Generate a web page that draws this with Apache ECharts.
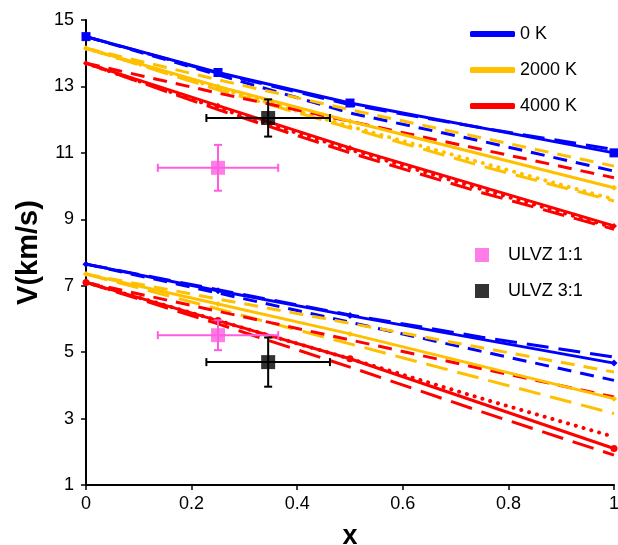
<!DOCTYPE html>
<html><head><meta charset="utf-8">
<script src="https://cdn.jsdelivr.net/npm/echarts@6/dist/echarts.min.js"></script>
<style>html,body{margin:0;padding:0;background:#fff;overflow:hidden}#c{width:100vw;height:100vh}</style>
</head><body><div id="c"></div><script>
// ---- data ----
const xSolid = [0, 0.25, 0.5, 1];
const xDash = [0, 0.25, 0.5, 0.75, 1];
const legendT = ['0 K', '2000 K', '4000 K'];
const legendU = ['ULVZ 1:1', 'ULVZ 3:1'];
// upper group (Vp)
const vpBlueSolid = [14.5, 13.42, 12.5, 11.0];
const vpBlueLong = [14.5, 13.4, 12.45, 11.75, 11.1];
const vpBlueMed = [14.5, 13.35, 12.2, 11.35, 10.45];
const vpOrangeSolid = [14.15, 13.0, 11.95, 9.95];
const vpOrangeMed = [14.15, 13.2, 12.3, 11.45, 10.6];
const vpOrangeLong = [14.15, 12.9, 11.75, 10.6, 9.55];
const vpOrangeDot = [14.15, 12.95, 11.8, 10.7, 9.6];
const vpRedSolid = [13.7, 12.42, 11.15, 8.8];
const vpRedMed = [13.7, 12.8, 11.95, 11.1, 10.25];
const vpRedLong = [13.7, 12.3, 11.0, 9.8, 8.7];
const vpRedDot = [13.7, 12.35, 11.1, 9.9, 8.75];
// lower group (Vs)
const vsBlueSolid = [7.65, 6.85, 6.1, 4.67];
const vsBlueLong = [7.65, 6.88, 6.12, 5.45, 4.85];
const vsBlueMed = [7.65, 6.78, 5.9, 5.02, 4.15];
const vsOrangeSolid = [7.35, 6.45, 5.55, 3.6];
const vsOrangeMed = [7.35, 6.6, 5.87, 5.13, 4.4];
const vsOrangeLong = [7.35, 6.3, 5.25, 4.2, 3.15];
const vsRedSolid = [7.1, 5.95, 4.8, 2.1];
const vsRedMed = [7.1, 6.23, 5.37, 4.5, 3.65];
const vsRedLong = [7.1, 5.85, 4.55, 3.2, 1.9];
const vsRedDot = [7.1, 5.95, 4.8, 3.6, 2.45];
// ULVZ observations
const ulvz11X = [0.25, 0.25];
const ulvz11Y = [10.55, 5.51];
const ulvz11XErr = [0.114, 0.114];
const ulvz11YErr = [0.69, 0.45];
const ulvz31X = [0.345, 0.345];
const ulvz31Y = [12.05, 4.7];
const ulvz31XErr = [0.117, 0.117];
const ulvz31YErr = [0.56, 0.74];

// ---- styles ----
const BLUE = '#0000FF', ORANGE = '#FFC000', RED = '#FF0000', PINK = '#FF5CE0', BLACK = '#000000';
const FONT = 'Liberation Sans, Arial, sans-serif';
const pair = (xs, ys) => xs.map((x, i) => [x, ys[i]]);

function lineSeries(name, xs, ys, color, kind, symbol, symbolSize) {
  let ls = { color: color, width: 3 };
  if (kind === 'long') ls.type = [22, 10];
  else if (kind === 'med') ls.type = [14, 9];
  else if (kind === 'dot') { ls.type = [0.1, 8]; ls.cap = 'round'; ls.width = 4; }
  return {
    type: 'line', name: name, data: pair(xs, ys),
    lineStyle: ls, itemStyle: { color: color },
    symbol: symbol || 'none', symbolSize: symbolSize || 0, showSymbol: !!symbol,
    silent: true, animation: false, z: kind === 'solid' ? 4 : 3
  };
}

function errSeries(name, xs, ys, xe, ye, color) {
  return {
    type: 'custom', name: name + '_err', silent: true, animation: false, z: 6,
    data: xs.map((x, i) => [x, ys[i], xe[i], ye[i]]),
    encode: { x: 0, y: 1 },
    renderItem: function (params, api) {
      const x = api.value(0), y = api.value(1), dx = api.value(2), dy = api.value(3);
      const l = api.coord([x - dx, y]), r = api.coord([x + dx, y]);
      const t = api.coord([x, y + dy]), b = api.coord([x, y - dy]);
      const st = { stroke: color, lineWidth: 2 };
      const cap = 4;
      return { type: 'group', children: [
        { type: 'line', shape: { x1: l[0], y1: l[1], x2: r[0], y2: r[1] }, style: st },
        { type: 'line', shape: { x1: t[0], y1: t[1], x2: b[0], y2: b[1] }, style: st },
        { type: 'line', shape: { x1: l[0], y1: l[1] - cap, x2: l[0], y2: l[1] + cap }, style: st },
        { type: 'line', shape: { x1: r[0], y1: r[1] - cap, x2: r[0], y2: r[1] + cap }, style: st },
        { type: 'line', shape: { x1: t[0] - cap, y1: t[1], x2: t[0] + cap, y2: t[1] }, style: st },
        { type: 'line', shape: { x1: b[0] - cap, y1: b[1], x2: b[0] + cap, y2: b[1] }, style: st }
      ]};
    }
  };
}

const series = [
  lineSeries('vpBlueLong', xDash, vpBlueLong, BLUE, 'long'),
  lineSeries('vpBlueMed', xDash, vpBlueMed, BLUE, 'med'),
  lineSeries('vpOrangeMed', xDash, vpOrangeMed, ORANGE, 'med'),
  lineSeries('vpOrangeLong', xDash, vpOrangeLong, ORANGE, 'long'),
  lineSeries('vpOrangeDot', xDash, vpOrangeDot, ORANGE, 'dot'),
  lineSeries('vpRedMed', xDash, vpRedMed, RED, 'med'),
  lineSeries('vpRedLong', xDash, vpRedLong, RED, 'long'),
  lineSeries('vpRedDot', xDash, vpRedDot, RED, 'dot'),
  lineSeries('vsBlueLong', xDash, vsBlueLong, BLUE, 'long'),
  lineSeries('vsBlueMed', xDash, vsBlueMed, BLUE, 'med'),
  lineSeries('vsOrangeMed', xDash, vsOrangeMed, ORANGE, 'med'),
  lineSeries('vsOrangeLong', xDash, vsOrangeLong, ORANGE, 'long'),
  lineSeries('vsRedMed', xDash, vsRedMed, RED, 'med'),
  lineSeries('vsRedLong', xDash, vsRedLong, RED, 'long'),
  lineSeries('vsRedDot', xDash, vsRedDot, RED, 'dot'),
  lineSeries('0 K', xSolid, vpBlueSolid, BLUE, 'solid', 'rect', 9),
  lineSeries('2000 K', xSolid, vpOrangeSolid, ORANGE, 'solid', 'diamond', 6),
  lineSeries('4000 K', xSolid, vpRedSolid, RED, 'solid', 'diamond', 6),
  lineSeries('0 K', xSolid, vsBlueSolid, BLUE, 'solid', 'diamond', 7),
  lineSeries('2000 K', xSolid, vsOrangeSolid, ORANGE, 'solid', 'diamond', 6),
  lineSeries('4000 K', xSolid, vsRedSolid, RED, 'solid', 'circle', 7),
  errSeries('ULVZ 1:1', ulvz11X, ulvz11Y, ulvz11XErr, ulvz11YErr, PINK),
  errSeries('ULVZ 3:1', ulvz31X, ulvz31Y, ulvz31XErr, ulvz31YErr, BLACK),
  { type: 'scatter', name: 'ULVZ 1:1', data: pair(ulvz11X, ulvz11Y), symbol: 'rect', symbolSize: 14,
    itemStyle: { color: PINK }, z: 7, silent: true, animation: false },
  { type: 'scatter', name: 'ULVZ 3:1', data: pair(ulvz31X, ulvz31Y), symbol: 'rect', symbolSize: 14,
    itemStyle: { color: BLACK }, z: 7, silent: true, animation: false }
];

const chart = echarts.init(document.getElementById('c'), null, { renderer: 'canvas' });
chart.setOption({
  animation: false,
  backgroundColor: '#ffffff',
  grid: { left: 86, right: 4, top: 20, bottom: 60, containLabel: false, outerBoundsMode: 'none' },
  xAxis: {
    type: 'value', min: 0, max: 1, interval: 0.2,
    name: 'x', nameLocation: 'middle', nameGap: 38,
    nameTextStyle: { fontSize: 27, fontWeight: 'bold', fontFamily: FONT, color: '#000' },
    axisLine: { show: true, onZero: false, lineStyle: { color: '#000', width: 2 } },
    axisTick: { show: true, length: 5, lineStyle: { color: '#000', width: 1.5 } },
    axisLabel: { fontSize: 18, fontFamily: FONT, color: '#000', margin: 10,
      formatter: v => String(Math.round(v * 10) / 10) },
    splitLine: { show: false }
  },
  yAxis: {
    type: 'value', min: 1, max: 15, interval: 2,
    name: 'V(km/s)', nameLocation: 'middle', nameGap: 41, nameRotate: 90,
    nameTextStyle: { fontSize: 29, fontWeight: 'bold', fontFamily: FONT, color: '#000' },
    axisLine: { show: true, onZero: false, lineStyle: { color: '#000', width: 2 } },
    axisTick: { show: true, length: 5, lineStyle: { color: '#000', width: 1.5 } },
    axisLabel: { fontSize: 18, fontFamily: FONT, color: '#000', margin: 12 },
    splitLine: { show: false }
  },
  legend: [
    { data: legendT, orient: 'vertical', left: 470, top: 25, padding: 0, itemWidth: 45, itemHeight: 6,
      icon: 'roundRect', itemGap: 18, selectedMode: false,
      textStyle: { fontSize: 18, fontFamily: FONT, color: '#000' } },
    { data: legendU, orient: 'vertical', left: 475, top: 246, padding: 0, itemWidth: 14, itemHeight: 14,
      icon: 'rect', itemGap: 18, selectedMode: false,
      textStyle: { fontSize: 18, fontFamily: FONT, color: '#000', padding: [0, 0, 0, 14] } }
  ],
  series: series
});
</script></body></html>
